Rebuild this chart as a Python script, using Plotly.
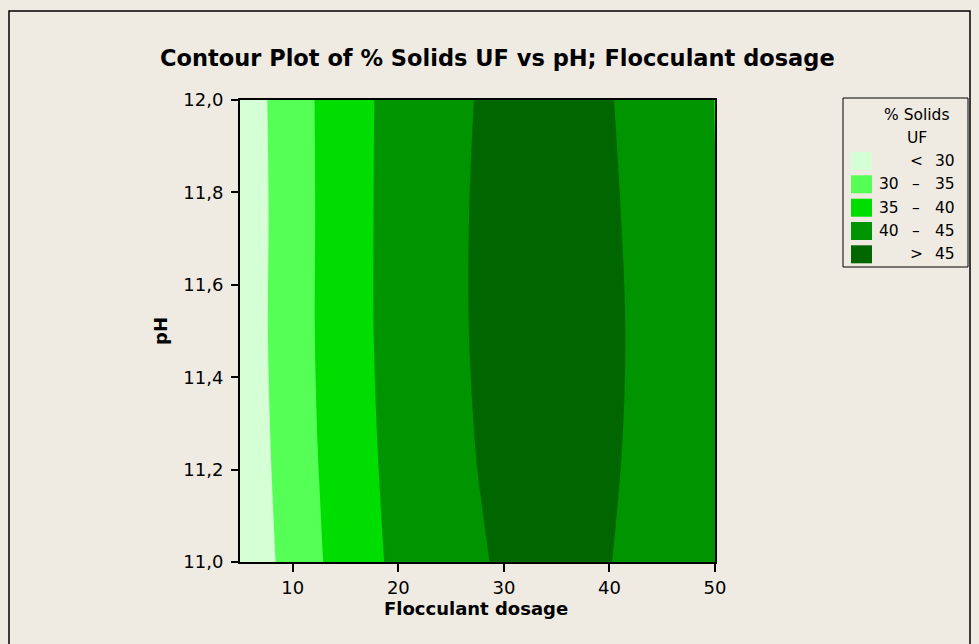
import plotly.graph_objects as go

# ---------------- data ----------------
dosage = [5, 7.5, 10, 12.5, 15, 17.5, 20, 22.5, 25, 27.5, 30, 32.5, 35, 37.5, 40, 42.5, 45, 47.5, 50]
ph = [11.0, 11.25, 11.5, 11.75, 12.0]

solids_ph_11_00 = [25.69, 28.96, 31.95, 34.64, 37.05, 39.16, 40.98, 42.51, 43.75, 44.70,
                   45.36, 45.73, 45.80, 45.59, 45.08, 44.28, 43.19, 41.81, 40.14]
solids_ph_11_25 = [26.28, 29.53, 32.48, 35.15, 37.53, 39.62, 41.42, 42.93, 44.15, 45.08,
                   45.73, 46.08, 46.14, 45.91, 45.39, 44.58, 43.49, 42.10, 40.42]
solids_ph_11_50 = [26.59, 29.83, 32.78, 35.44, 37.81, 39.89, 41.68, 43.18, 44.38, 45.30,
                   45.92, 46.25, 46.29, 46.04, 45.50, 44.67, 43.54, 42.13, 40.42]
solids_ph_11_75 = [26.47, 29.75, 32.73, 35.41, 37.80, 39.89, 41.68, 43.18, 44.38, 45.29,
                   45.90, 46.21, 46.23, 45.95, 45.38, 44.51, 43.34, 41.88, 40.12]
solids_ph_12_00 = [26.68, 29.90, 32.82, 35.46, 37.80, 39.85, 41.60, 43.07, 44.24, 45.12,
                   45.71, 46.01, 46.02, 45.73, 45.15, 44.28, 43.12, 41.67, 39.92]

level_start = 30
level_end = 45
level_step = 5
band_colors = ["#D5FFD5", "#55FF55", "#00DD00", "#009400", "#006600"]
legend_left = ["", "30", "35", "40", ""]
legend_sym = ["<", "–", "–", "–", ">"]
legend_right = ["30", "35", "40", "45", "45"]

x_ticks = [10, 20, 30, 40, 50]
y_ticks = [11.0, 11.2, 11.4, 11.6, 11.8, 12.0]

title_text = "Contour Plot of % Solids UF vs pH; Flocculant dosage"
x_title = "Flocculant dosage"
y_title = "pH"
legend_title = ["% Solids", "UF"]

# ---------------- figure ----------------
W, H = 979, 644
L, R, T, B = 240, 715, 100, 562  # plot area in pixels
BG = "#EFEBE2"
FONT = "DejaVu Sans"


def px(xp):
    return (xp - L) / (R - L)


def py(yp):
    return (B - yp) / (B - T)


z = [solids_ph_11_00, solids_ph_11_25, solids_ph_11_50, solids_ph_11_75, solids_ph_12_00]

n = len(band_colors)
scale = []
for i, c in enumerate(band_colors):
    lo = 0 if i == 0 else (i - 0.5) / (n - 1)
    hi = 1 if i == n - 1 else (i + 0.5) / (n - 1)
    scale.append([lo, c])
    scale.append([hi, c])

fig = go.Figure()
fig.add_trace(go.Contour(
    x=dosage, y=ph, z=z,
    contours=dict(start=level_start, end=level_end, size=level_step,
                  coloring="fill", showlines=False),
    colorscale=scale, showscale=False, line=dict(width=0),
    hoverinfo="x+y+z",
))

axis_common = dict(showline=True, linecolor="black", linewidth=2, mirror=True,
                   ticks="outside", tickcolor="black", tickwidth=1.5,
                   showgrid=False, zeroline=False,
                   tickfont=dict(family=FONT, size=18, color="black"))

fig.update_layout(
    width=W, height=H,
    margin=dict(l=L, r=W - R, t=T, b=H - B, pad=0),
    paper_bgcolor=BG, plot_bgcolor=BG,
    separators=",.",
    xaxis=dict(range=[5, 50], tickvals=x_ticks, ticklen=8, **axis_common),
    yaxis=dict(range=[11, 12], tickvals=y_ticks, tickformat=".1f", ticklen=7,
               ticklabelstandoff=4, **axis_common),
    showlegend=False,
)

shapes = [
    # outer frame
    dict(type="rect", xref="paper", yref="paper", x0=px(9), x1=px(970), y0=py(652), y1=py(11),
         line=dict(color="black", width=1.5), fillcolor="rgba(0,0,0,0)"),
    # legend box
    dict(type="rect", xref="paper", yref="paper", x0=px(843), x1=px(968), y0=py(267), y1=py(98),
         line=dict(color="black", width=1), fillcolor="rgba(0,0,0,0)"),
]
annotations = [
    dict(text="<b>%s</b>" % title_text, xref="paper", yref="paper", x=px(497), y=py(58),
         showarrow=False, xanchor="center", yanchor="middle",
         font=dict(family=FONT, size=22.5, color="black")),
    dict(text="<b>%s</b>" % x_title, xref="paper", yref="paper", x=px(476), y=py(608),
         showarrow=False, xanchor="center", yanchor="middle",
         font=dict(family=FONT, size=18, color="black")),
    dict(text="<b>%s</b>" % y_title, xref="paper", yref="paper", x=px(160), y=py(331),
         showarrow=False, xanchor="center", yanchor="middle", textangle=-90,
         font=dict(family=FONT, size=18, color="black")),
    dict(text=legend_title[0], xref="paper", yref="paper", x=px(917), y=py(115),
         showarrow=False, xanchor="center", yanchor="middle",
         font=dict(family=FONT, size=15.5, color="black")),
    dict(text=legend_title[1], xref="paper", yref="paper", x=px(917), y=py(138),
         showarrow=False, xanchor="center", yanchor="middle",
         font=dict(family=FONT, size=15.5, color="black")),
]

row_y = [161, 184.3, 207.7, 231, 254.3]
for i, c in enumerate(band_colors):
    yc = row_y[i]
    shapes.append(dict(type="rect", xref="paper", yref="paper", x0=px(851), x1=px(872),
                       y0=py(yc + 9), y1=py(yc - 9), line=dict(width=0), fillcolor=c))
    lf = dict(family=FONT, size=15.5, color="black")
    if legend_left[i]:
        annotations.append(dict(text=legend_left[i], xref="paper", yref="paper", x=px(901),
                                y=py(yc), showarrow=False, xanchor="right", yanchor="middle", font=lf))
    annotations.append(dict(text=legend_sym[i], xref="paper", yref="paper", x=px(916),
                            y=py(yc), showarrow=False, xanchor="center", yanchor="middle", font=lf))
    annotations.append(dict(text=legend_right[i], xref="paper", yref="paper", x=px(957),
                            y=py(yc), showarrow=False, xanchor="right", yanchor="middle", font=lf))

fig.update_layout(shapes=shapes, annotations=annotations)
fig.write_html("out.html", config={"displayModeBar": False},
               post_script="document.body.style.margin='0';document.body.style.overflow='hidden';")
